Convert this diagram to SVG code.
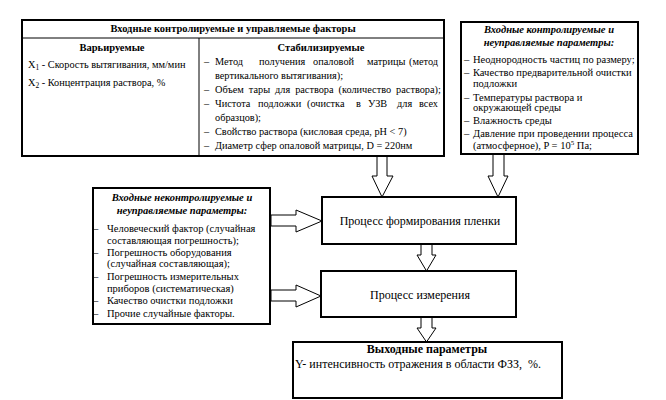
<svg xmlns="http://www.w3.org/2000/svg" width="666" height="400" viewBox="0 0 666 400">
<style>
.box{fill:#fff;stroke:#000;stroke-width:2}
.thin{stroke:#000;stroke-width:1;fill:none}
.t{font-family:"Liberation Serif","Times New Roman",serif;font-size:10.5px;fill:#000}
.s{font-size:10.3px}
.b{font-weight:bold}
.bi{font-weight:bold;font-style:italic}
.m{text-anchor:middle}
.e{text-anchor:end}
.p{font-family:"Liberation Serif","Times New Roman",serif;font-size:12px;fill:#000}
.arr{fill:#fff;stroke:#000;stroke-width:1}
</style>
<rect width="666" height="400" fill="#fff"/>
<g id="connectors">
<path class="arr" d="M377,156 V176 H372 L382,197 L393,176 H387 V156 Z"/>
<path class="arr" d="M493,154 V176 H488 L498,197 L508,176 H504 V154 Z"/>
<path class="arr" d="M271,215 H296 V210 L322,221 L296,232 V226 H271 Z"/>
<path class="arr" d="M271,290 H296 V285 L321,296 L296,307 V301 H271 Z"/>
<path class="arr" d="M421,244 V255 H417 L426.5,271 L436,255 H432 V244 Z"/>
<path class="arr" d="M421,317 V328 H417 L426.5,342 L436,328 H432 V317 Z"/>
</g>
<g id="controlled">
<rect class="box" x="22" y="20" width="422" height="136"/>
<line class="thin" x1="22" y1="38" x2="444" y2="38"/>
<line class="thin" x1="199" y1="38" x2="199" y2="156"/>
<text class="t b m" x="233" y="32" font-size="9.5">Входные контролируемые и управляемые факторы</text>
<text class="t b m" x="112" y="51">Варьируемые</text>
<text class="t s" x="28" y="68">X<tspan font-size="7.5" dy="2">1</tspan><tspan dy="-2"> - Скорость вытягивания, мм/мин</tspan></text>
<text class="t s" x="28" y="86">X<tspan font-size="7.5" dy="2">2</tspan><tspan dy="-2"> - Концентрация раствора, %</tspan></text>
<text class="t b m" x="321" y="51">Стабилизируемые</text>
<g class="t s">
<text x="204" y="65">–</text>
<text x="215" y="65">Метод</text><text x="259" y="65">получения</text><text x="313" y="65">опаловой</text><text x="367" y="65">матрицы</text><text class="e" x="438" y="65">(метод</text>
<text x="215" y="79">вертикального вытягивания);</text>
<text x="204" y="93">–</text>
<text x="215" y="93" word-spacing="2.4">Объем тары для раствора (количество раствора);</text>
<text x="204" y="107">–</text>
<text x="215" y="107">Чистота</text><text x="258" y="107">подложки</text><text x="307" y="107">(очистка</text><text x="356" y="107">в</text><text x="368" y="107">УЗВ</text><text x="397" y="107">для</text><text class="e" x="438" y="107">всех</text>
<text x="215" y="121">образцов);</text>
<text x="204" y="135">–</text>
<text x="215" y="135">Свойство раствора (кисловая среда, pH &lt; 7)</text>
<text x="204" y="149">–</text>
<text x="215" y="149">Диаметр сфер опаловой матрицы, D = 220нм</text>
</g>
</g>
<g id="uncontrolled-right">
<rect class="box" x="461" y="22" width="177" height="132"/>
<text class="t bi m" x="549" y="33">Входные контролируемые и</text>
<text class="t bi m" x="549" y="46">неуправляемые параметры:</text>
<g class="t">
<text x="464" y="63">–</text><text x="473" y="63">Неоднородность частиц по размеру;</text>
<text x="464" y="76">–</text><text x="473" y="76">Качество предварительной очистки</text>
<text x="473" y="87">подложки</text>
<text x="464" y="101">–</text><text x="473" y="101">Температуры раствора и</text>
<text x="473" y="111">окружающей среды</text>
<text x="464" y="124">–</text><text x="473" y="124">Влажность среды</text>
<text x="464" y="137">–</text><text x="473" y="137">Давление при проведении процесса</text>
<text x="473" y="149">(атмосферное), P = 10<tspan font-size="7" dy="-4">5</tspan><tspan dy="4"> Па;</tspan></text>
</g>
</g>
<g id="uncontrolled-left">
<rect class="box" x="93" y="188" width="177" height="136"/>
<text class="t bi m" x="182" y="201">Входные неконтролируемые и</text>
<text class="t bi m" x="182" y="214">неуправляемые параметры:</text>
<g class="t">
<text x="93" y="232">–</text><text x="107" y="232">Человеческий фактор (случайная</text>
<text x="107" y="244">составляющая погрешность);</text>
<text x="93" y="256">–</text><text x="107" y="256">Погрешность оборудования</text>
<text x="107" y="267">(случайная составляющая);</text>
<text x="93" y="280">–</text><text x="107" y="280">Погрешность измерительных</text>
<text x="107" y="292">приборов (систематическая)</text>
<text x="93" y="304">–</text><text x="107" y="304">Качество очистки подложки</text>
<text x="93" y="317">–</text><text x="107" y="317">Прочие случайные факторы.</text>
</g>
</g>
<g id="film-process">
<rect class="box" x="322" y="197" width="194" height="47"/>
<text class="p m" x="420" y="225">Процесс формирования пленки</text>
</g>
<g id="measure-process">
<rect class="box" x="321" y="271" width="195" height="46"/>
<text class="p m" x="420" y="299">Процесс измерения</text>
</g>
<g id="output">
<rect class="box" x="293" y="342" width="269" height="56"/>
<text class="p b m" x="427" y="353">Выходные параметры</text>
<text class="p" x="295" y="368" font-size="11.5" style="white-space:pre">Y- интенсивность отражения в области ФЗЗ,  %.</text>
</g>
</svg>
